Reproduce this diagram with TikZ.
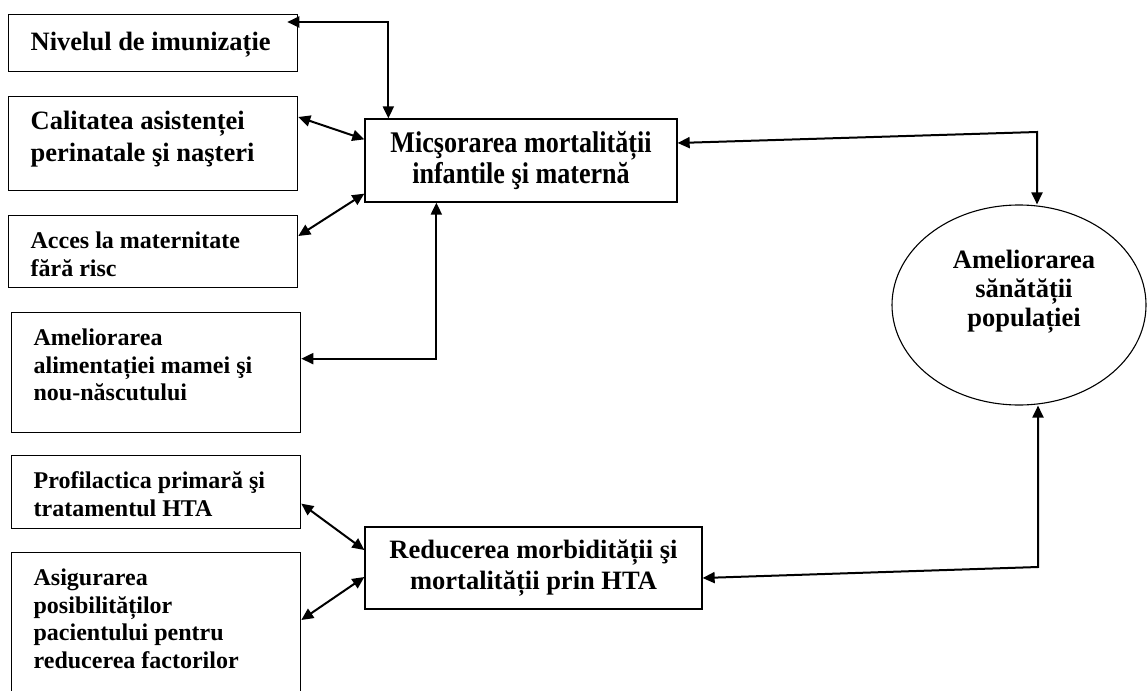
\documentclass[tikz,border=0pt]{standalone}
\usepackage{fontspec}
\setmainfont{Liberation Serif}
\newfontfamily\narrowfont[FakeStretch=0.87]{Liberation Serif}
\usetikzlibrary{arrows.meta,shapes.geometric}

\begin{document}
\begin{tikzpicture}[x=1pt,y=-1pt,
	>={Triangle[length=12pt,width=11pt]},
	sidebox/.style={draw,line width=1.3pt,anchor=north west,align=flush left,
		text width=245pt,inner xsep=22pt,inner ysep=0pt,text height=33pt},
	bigtext/.style={font=\fontsize{26.5}{32}\selectfont\bfseries},
	smalltext/.style={font=\fontsize{24}{27.5}\selectfont\bfseries},
	mainbox/.style={draw,line width=1.3pt,align=flush center,inner sep=0pt,
		font=\fontsize{26.5}{31}\selectfont\bfseries},
	link/.style={<->,line width=2pt}]
	\useasboundingbox (0,0) rectangle (1147,690);
	\clip (0,0) rectangle (1147,690);
	%Casete stanga
	\node[sidebox,bigtext,text height=36pt,text depth=21pt] (imun) at (8,14) {Nivelul de imunizație};
	\node[sidebox,bigtext,text depth=61pt] (asist) at (8,96) {Calitatea asistenței\\perinatale şi naşteri};
	\node[sidebox,smalltext,text depth=39pt] (acces) at (8,215) {Acces la maternitate\\fără risc};
	\node[sidebox,smalltext,text depth=87pt] (alim) at (11,312) {Ameliorarea\\alimentației mamei şi\\nou-născutului};
	\node[sidebox,smalltext,text depth=40pt] (prof) at (11,455) {Profilactica primară şi\\tratamentul HTA};
	\node[sidebox,smalltext,text depth=140pt] (asig) at (11,552) {Asigurarea\\posibilităților\\pacientului pentru\\reducerea factorilor};
	%Casete centrale
	\node[mainbox,font=\narrowfont\fontsize{30}{31}\selectfont\bfseries,
		minimum width=312pt,minimum height=83pt] (micsor) at (521,160.5) {Micşorarea mortalității\\infantile şi maternă};
	\node[mainbox,minimum width=337pt,minimum height=82pt] (reduc) at (533.5,568) {Reducerea morbidității şi\\mortalității prin HTA};
	%Elipsa
	\node[draw,ellipse,line width=1.1pt,minimum width=254pt,minimum height=200pt] (amel) at (1019,305) {};
	\node[font=\fontsize{26.5}{29}\selectfont\bfseries,align=flush center] (ameltext) at (1024,292) {Ameliorarea\\sănătății\\populației};
	%Colturi
	\coordinate (cornerTop) at (1037,132);
	\coordinate (cornerBot) at (1038,567);
	%Sageti stanga
	\draw[link] ([xshift=-11pt,yshift=-8pt]imun.north east) -| ([xshift=24pt]micsor.north west);
	\draw[link] ([yshift=-21pt]asist.north east) -- ([yshift=-21pt]micsor.north west);
	\draw[link] ([yshift=-21pt]acces.north east) -- ([yshift=9pt]micsor.south west);
	\draw[link] ([xshift=72pt]micsor.south west) |- ([yshift=14pt]alim.east);
	\draw[link] ([yshift=-11.5pt]prof.east) -- ([yshift=18pt]reduc.west);
	\draw[link] ([yshift=-68pt]asig.north east) -- ([yshift=-9pt]reduc.west);
	%Sageti dreapta
	\draw[link] ([yshift=17.5pt]micsor.east) -- (cornerTop) -- (cornerTop |- amel.north);
	\draw[link] ([yshift=-10pt]reduc.east) -- (cornerBot) -- (cornerBot |- amel.south);
\end{tikzpicture}
\end{document}
